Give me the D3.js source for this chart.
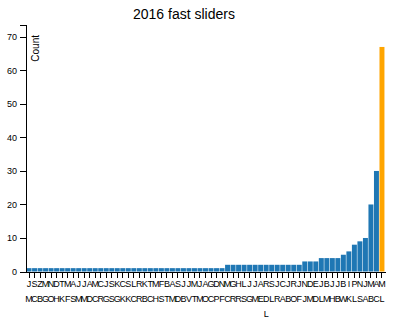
<!DOCTYPE html>
<html>
<head>
<meta charset="utf-8">
<script src="https://cdn.jsdelivr.net/npm/d3@7"></script>
<style>
  body { margin: 0; background: #fff; }
  svg { display: block; font-family: "Liberation Sans", Arial, sans-serif; }
  .axis text { font-size: 9px; fill: #000; }
  .axis path, .axis line { stroke: #000; shape-rendering: crispEdges; }
</style>
</head>
<body>
<svg id="chart" width="404" height="330"></svg>
<script>
// Pitcher initials (first name / last name), one per bar
const firstInitials = ["J","S","Z","M","N","D","T","M","A","J","J","A","M","C","J","S","K","C","S","L","R","K","T","M","F","B","A","S","J","J","M","J","A","G","D","N","M","G","H","L","J","J","A","R","S","J","C","J","R","J","N","D","E","J","B","J","J","B","I","P","N","J","M","A","M"];
const lastInitials = ["M","C","B","G","O","H","K","F","S","M","M","D","C","R","G","S","G","K","K","C","R","B","C","H","S","T","M","D","B","V","T","M","O","C","P","F","C","R","R","S","G","M","E","D","L","R","A","B","O","F","J","M","D","L","M","H","B","W","K","L","S","A","B","C","L"];
// One pitcher carries a middle initial
const middleInitialIndex = 43;
const middleInitial = "L";

// Number of fast sliders thrown in 2016, sorted ascending
const counts = [1,1,1,1,1,1,1,1,1,1,1,1,1,1,1,1,1,1,1,1,1,1,1,1,1,1,1,1,1,1,1,1,1,1,1,1,
                2,2,2,2,2,2,2,2,2,2,2,2,2,2,
                3,3,3,4,4,4,4,5,6,8,9,10,20,30,67];

const yTicks = [0,10,20,30,40,50,60,70];

const names = firstInitials.map((f, i) =>
  i === middleInitialIndex ? [f, lastInitials[i], middleInitial].join(" ") : f + " " + lastInitials[i]);
const data = names.map((name, i) => ({ name, id: i, count: counts[i] }));

const svg = d3.select("#chart");
const W = +svg.attr("width"), H = +svg.attr("height");
const margin = { top: 24.5, right: 19, bottom: 58.5, left: 26 };
const width = W - margin.left - margin.right;
const height = H - margin.top - margin.bottom;

const maxCount = d3.max(data, d => d.count);

const x = d3.scaleBand()
  .domain(data.map(d => d.id))
  .range([0, width])
  .padding(0.1);

const y = d3.scaleLinear()
  .domain([0, maxCount * 1.1])
  .range([height, 0]);

const g = svg.append("g").attr("transform", `translate(${margin.left},${margin.top})`);

// Title
svg.append("text")
  .attr("x", margin.left + 158)
  .attr("y", 18.5)
  .attr("text-anchor", "middle")
  .style("font-size", "14px")
  .text("2016 fast sliders");

// Bars; the leader is highlighted
g.selectAll("rect.bar")
  .data(data)
  .join("rect")
  .attr("class", "bar")
  .attr("x", d => x(d.id))
  .attr("width", x.bandwidth())
  .attr("y", d => y(d.count))
  .attr("height", d => height - y(d.count))
  .attr("fill", d => d.count === maxCount ? "#ffa500" : "#1f77b4");

// X axis with initials stacked one per line
const xAxis = g.append("g")
  .attr("class", "axis x")
  .attr("transform", `translate(0,${height})`)
  .call(d3.axisBottom(x).tickSizeOuter(0).tickFormat(i => names[i]));

xAxis.selectAll(".tick text").each(function () {
  const t = d3.select(this);
  const words = t.text().split(" ");
  t.text(null);
  words.forEach((w, k) => {
    t.append("tspan")
      .attr("x", 0)
      .attr("dy", k === 0 ? "0.71em" : "15px")
      .text(w);
  });
});

// Y axis
const yAxis = g.append("g")
  .attr("class", "axis y")
  .call(d3.axisLeft(y).tickValues(yTicks));

yAxis.append("text")
  .attr("transform", "rotate(-90)")
  .attr("y", 6)
  .attr("dy", "0.71em")
  .attr("x", -10.5)
  .style("text-anchor", "end")
  .style("font-size", "10px")
  .text("Count");
</script>
</body>
</html>
